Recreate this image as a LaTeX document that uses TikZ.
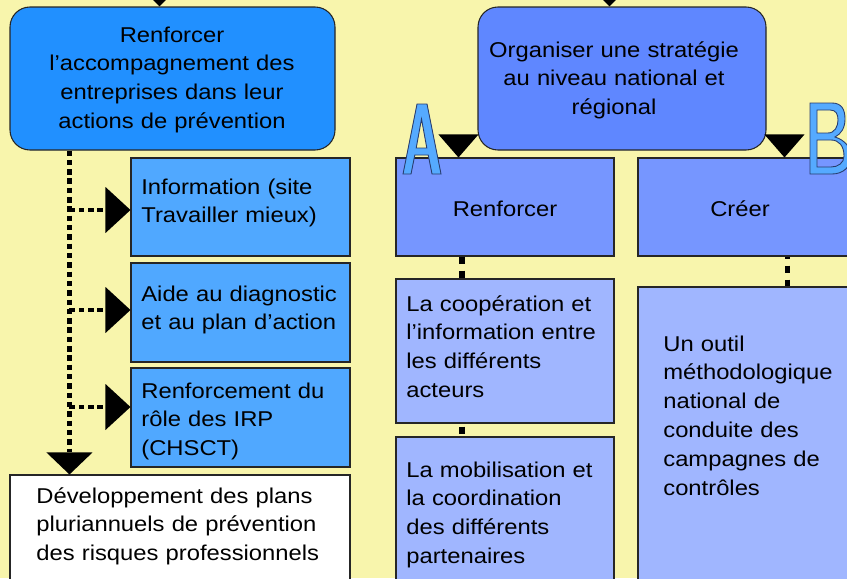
\documentclass[tikz,border=0pt]{standalone}
\usepackage{fontspec}
\setmainfont{Liberation Sans}[FakeStretch=1.11]
\usetikzlibrary{fit,calc,arrows.meta}
\definecolor{bgyellow}{RGB}{248,245,172}
\definecolor{deepblue}{RGB}{33,144,255}
\definecolor{skyblue}{RGB}{80,168,255}
\definecolor{royal}{RGB}{95,135,255}
\definecolor{midblue}{RGB}{118,150,255}
\definecolor{paleblue}{RGB}{160,182,255}
\definecolor{letterblue}{RGB}{85,170,255}
\definecolor{letterline}{RGB}{40,60,110}

\tikzset{
  every node/.style={font=\fontsize{12.2}{16.4}\selectfont, inner sep=0pt},
  box/.style={draw=black!85, line width=0.6pt},
  goalbox/.style={box, rounded corners=0.4cm},
  lefttxt/.style={anchor=base west, text width=6cm, align=left},
  midtxt/.style={anchor=base, text width=6cm, align=center},
  trunkline/.style={line width=2.8pt, dash pattern=on 3.1pt off 2.2pt},
  linkline/.style={line width=3.4pt, dash pattern=on 4pt off 4pt},
  downtip/.tip={Triangle[length=0.44cm,width=0.92cm,line width=0pt]},
  sidetip/.tip={Triangle[length=0.5cm,width=0.92cm,line width=0pt]},
}

\begin{document}
\begin{tikzpicture}[x=0.02cm,y=-0.02cm]
\useasboundingbox (0,0) rectangle (847,578);
\clip (0,0) rectangle (847,578);
\fill[bgyellow] (0,0) rectangle (847,578);

% left column
\node[goalbox, fill=deepblue, fit={(10,7) (335,150)}] (accomp) {};
\node[midtxt] at (172,42) {Renforcer\\l’accompagnement des\\entreprises dans leur\\actions de prévention};
\node[box, fill=skyblue, fit={(131,158) (350,256)}] (info) {};
\node[lefttxt] at (141,194) {Information (site\\Travailler mieux)};
\node[box, fill=skyblue, fit={(131,263) (350,362)}] (diag) {};
\node[lefttxt] at (141,301) {Aide au diagnostic\\et au plan d’action};
\node[box, fill=skyblue, fit={(131,368) (350,467)}] (irp) {};
\node[lefttxt] at (141,398) {Renforcement du\\rôle des IRP\\(CHSCT)};
\node[box, fill=white, fit={(10,475) (350,600)}] (plan) {};
\node[lefttxt] at (36,503) {Développement des plans\\pluriannuels de prévention\\des risques professionnels};

\coordinate (inleft) at ($(accomp.north west)+(150,0)$);
\fill (inleft) -- ++(-22,-22) -- ++(44,0) -- cycle;

\coordinate (trunktop) at ($(accomp.south west)+(60,0)$);
\draw[trunkline,-downtip] (trunktop) -- (trunktop |- plan.north);
\foreach \target/\dy in {info/3, diag/-2.5, irp/-10.5} {
  \coordinate (branch) at ($(\target.west)+(0,\dy)$);
  \draw[trunkline,-sidetip] (branch -| trunktop) -- (branch);
}

% right column
\node[goalbox, fill=royal, fit={(478,7) (766,150)}] (strat) {};
\node[midtxt] at (614,57) {Organiser une stratégie\\au niveau national et\\régional};
\node[box, fill=midblue, fit={(396,158) (614,256)}] (renf) {};
\node[anchor=base] at (505,216) {Renforcer};
\node[box, fill=midblue, fit={(638,158) (870,256)}] (creer) {};
\node[anchor=base] at (740,216) {Créer};
\node[box, fill=paleblue, fit={(396,279) (614,423)}] (coop) {};
\node[lefttxt] at (406,311) {La coopération et\\l’information entre\\les différents\\acteurs};
\node[box, fill=paleblue, fit={(396,437) (614,600)}] (mobil) {};
\node[lefttxt] at (406,477) {La mobilisation et\\la coordination\\des différents\\partenaires};
\node[box, fill=paleblue, fit={(638,287) (870,600)}] (outil) {};
\node[lefttxt] at (663,351) {Un outil\\méthodologique\\national de\\conduite des\\campagnes de\\contrôles};

\coordinate (inright) at ($(strat.north west)+(132,0)$);
\fill (inright) -- ++(-22,-22) -- ++(44,0) -- cycle;
\fill ($(renf.north west)+(63,0)$) -- ++(-20,-23) -- ++(40,0) -- cycle;
\fill ($(creer.north west)+(147,0)$) -- ++(-20,-23) -- ++(40,0) -- cycle;

\coordinate (renflink) at ($(renf.south west)+(67,0)$);
\draw[linkline] (renflink) -- (renflink |- coop.north);
\draw[linkline, dash phase=6.2pt] (renflink |- coop.south) -- (renflink |- mobil.north);
\coordinate (creerlink) at ($(creer.south west)+(150,0)$);
\draw[linkline, dash phase=2.8pt] (creerlink) -- (creerlink |- outil.north);

% letters A and B
\filldraw[fill=letterblue, draw=letterline, line width=0.5pt, even odd rule]
  (403,174) -- (417,104) -- (427,104) -- (441,174) -- (432,174) -- (428.2,155)
  -- (414.8,155) -- (411,174) -- cycle
  (416.2,148) -- (421.5,119) -- (426.8,148) -- cycle;
\filldraw[fill=letterblue, draw=letterline, line width=0.5pt, even odd rule]
  (810,174) -- (810,103) -- (832,103) .. controls (842,103) and (845,110) .. (845,119)
  .. controls (845,128) and (841,134) .. (835,137) .. controls (845,140) and (851,148) .. (851,156)
  .. controls (851,167) and (843,174) .. (832,174) -- cycle
  (817,110) -- (830,110) .. controls (836,110) and (838,114) .. (838,120)
  .. controls (838,126) and (835,133) .. (828,133) -- (817,133) -- cycle
  (817,140) -- (831,140) .. controls (839,140) and (844,146) .. (844,156)
  .. controls (844,163) and (838,167) .. (831,167) -- (817,167) -- cycle;
\end{tikzpicture}
\end{document}
